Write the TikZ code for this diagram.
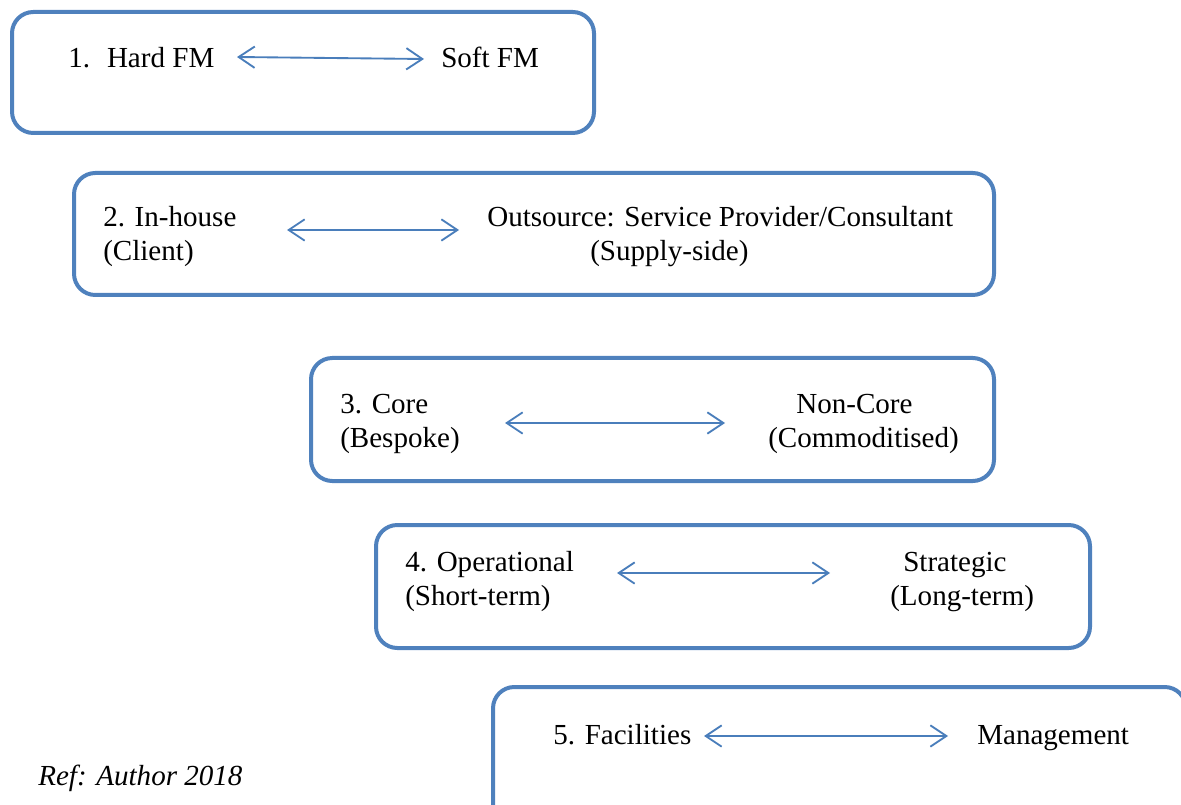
\documentclass[tikz,border=0pt]{standalone}
\usepackage{fontspec}
\setmainfont{Liberation Serif}
\usetikzlibrary{arrows.meta}
\definecolor{boxblue}{HTML}{4F81BD}
\definecolor{arrowblue}{HTML}{4A7EBB}
\begin{document}
\begin{tikzpicture}[x=0.75pt,y=-0.75pt,
  frame/.style={draw=boxblue,line width=3pt,rounded corners=16pt},
  txt/.style={anchor=base west,inner sep=0pt,font=\fontsize{21.8}{26}\selectfont},
  barb/.tip={Straight Barb[length=12pt,width=16pt,line width=1.4pt]},
  twoway/.style={draw=arrowblue,line width=1.4pt,{barb}-{barb}}
]
\useasboundingbox (0,0) rectangle (1181,805);
\clip (0,0) rectangle (1181,805);

% frames
\draw[frame] (12,12) rectangle (594,133);
\draw[frame] (74,173) rectangle (994,295);
\draw[frame] (311,358) rectangle (994,481);
\draw[frame] (376,525) rectangle (1090,648);
\draw[frame] (493,687) rectangle (1186,830);

% row 1
\node[txt] (hard) at (68,68) {1.~ Hard FM};
\node[txt] (soft) at (441,68) {Soft FM};
\coordinate (a1l) at (237,57);
\coordinate (a1r) at (424,59);
\draw[twoway] (a1l) -- (a1r);

% row 2
\node[txt] (inh) at (103,227) {2. In-house};
\node[txt] (cli) at (103,261) {(Client)};
\node[txt] (out) at (487,227) {Outsource: Service Provider/Consultant};
\node[txt] (sup) at (590,261) {(Supply-side)};
\coordinate (a2l) at (287,230);
\coordinate (a2r) at (459,230);
\draw[twoway] (a2l) -- (a2r);

% row 3
\node[txt] (core) at (340,413) {3. Core};
\node[txt] (besp) at (340,447) {(Bespoke)};
\node[txt] (ncore) at (796,413) {Non-Core};
\node[txt] (comm) at (768,447) {(Commoditised)};
\coordinate (a3l) at (505,423);
\coordinate (a3r) at (725,423);
\draw[twoway] (a3l) -- (a3r);

% row 4
\node[txt] (oper) at (405,571) {4. Operational};
\node[txt] (shrt) at (405,605) {(Short-term)};
\node[txt] (strat) at (903,571) {Strategic};
\node[txt] (long) at (890,605) {(Long-term)};
\coordinate (a4l) at (617,573);
\coordinate (a4r) at (830,573);
\draw[twoway] (a4l) -- (a4r);

% row 5
\node[txt] (fac) at (553,744) {5. Facilities};
\node[txt] (mgmt) at (977,744) {Management};
\coordinate (a5l) at (704,736);
\coordinate (a5r) at (948,736);
\draw[twoway] (a5l) -- (a5r);

% source note
\node[txt,font=\fontsize{21.8}{26}\selectfont\itshape] (ref) at (38,785) {Ref: Author 2018};
\end{tikzpicture}
\end{document}
